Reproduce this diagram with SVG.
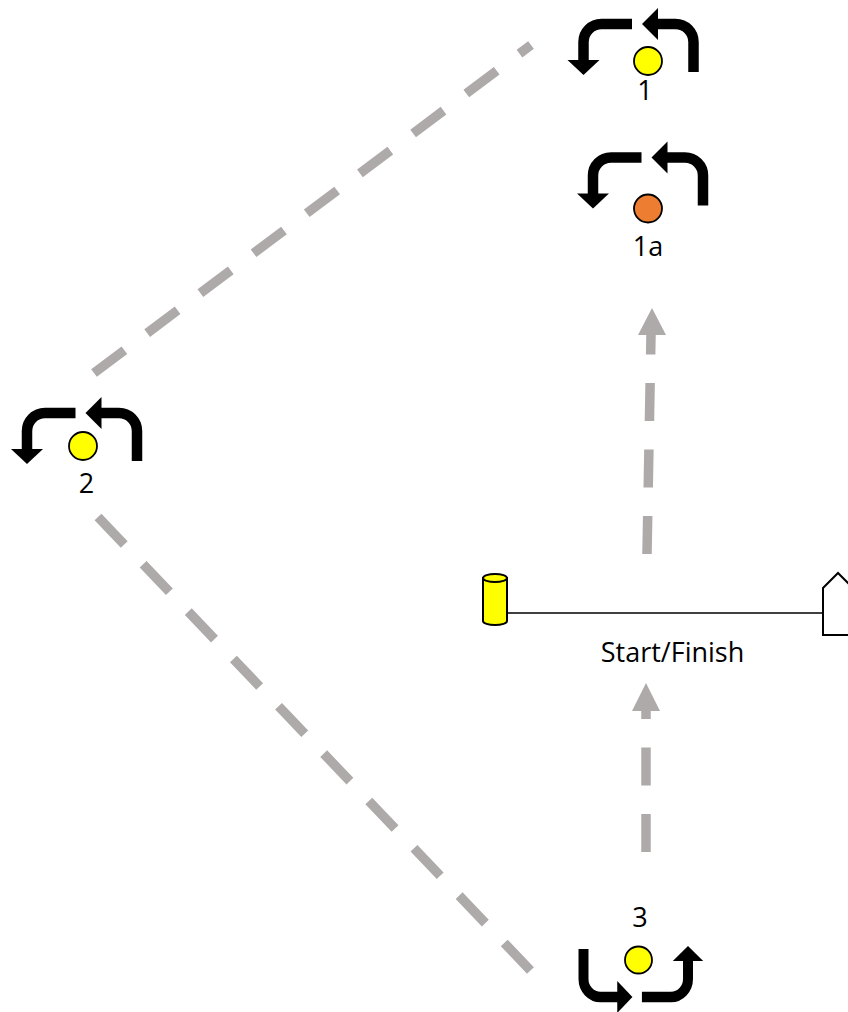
<svg xmlns="http://www.w3.org/2000/svg" xmlns:xlink="http://www.w3.org/1999/xlink" width="848" height="1012" viewBox="0 0 848 1012">
<style>
.lbl{font-family:"Open Sans","Liberation Sans",sans-serif;font-size:27px;fill:#000;text-anchor:middle}
.dash{fill:none;stroke:#AEAAAA;stroke-width:9.5;stroke-dasharray:38 28.5;stroke-linecap:butt}
.head{fill:#AEAAAA}
.turn{fill:none;stroke:#000;stroke-width:10.5}
.mark{stroke:#000;stroke-width:1.8}
</style>
<defs>
<g id="uturn">
<path class="turn" d="M48.5,0 H18 A18,18 0 0 0 0,18 V37"/>
<polygon points="-16,36 16,36 0,51" fill="#000"/>
<path class="turn" d="M73,0 H92 A18,18 0 0 1 110,18 V48"/>
<polygon points="58.5,0 74.5,-16 74.5,16" fill="#000"/>
</g>
</defs>
<rect width="848" height="1012" fill="#fff"/>
<g id="connectors">
<path class="dash" d="M94,373 L531,45"/>
<path class="dash" d="M98,517 L531,971" style="stroke-dasharray:38 27.4"/>
<path class="dash" d="M647,554 L651,335"/>
<polygon class="head" points="652,308 666,335 638,335"/>
<path class="dash" d="M646,852 L646,711"/>
<polygon class="head" points="646,683 660,711 632,711"/>
</g>
<g id="node1">
<use xlink:href="#uturn" transform="translate(583.5,24)"/>
<circle class="mark" cx="648" cy="61" r="14" fill="#FFFF00"/>
<text class="lbl" x="645" y="100">1</text>
</g>
<g id="node1a">
<use xlink:href="#uturn" transform="translate(593,157.5)"/>
<circle class="mark" cx="648" cy="208.5" r="14" fill="#ED7D31"/>
<text class="lbl" x="648" y="256">1a</text>
</g>
<g id="node2">
<use xlink:href="#uturn" transform="translate(27,413)"/>
<circle class="mark" cx="83" cy="446" r="14" fill="#FFFF00"/>
<text class="lbl" x="86.5" y="493">2</text>
</g>
<g id="node3">
<use xlink:href="#uturn" transform="translate(688,997) rotate(180) scale(0.95,1)"/>
<circle class="mark" cx="638.5" cy="960" r="13.5" fill="#FFFF00"/>
<text class="lbl" x="640" y="927">3</text>
</g>
<g id="startfinish">
<line x1="507" y1="613" x2="823" y2="613" stroke="#000" stroke-width="1.3"/>
<path d="M483,578 V621 A12,4 0 0 0 507,621 V578 Z" fill="#FFFF00" stroke="#000" stroke-width="2"/>
<ellipse cx="495" cy="578" rx="12" ry="4" fill="#FFFF00" stroke="#000" stroke-width="2"/>
<polygon points="823,588 838,573 853,588 853,635 823,635" fill="#fff" stroke="#000" stroke-width="2"/>
<text class="lbl" x="672.5" y="662">Start/Finish</text>
</g>
</svg>
